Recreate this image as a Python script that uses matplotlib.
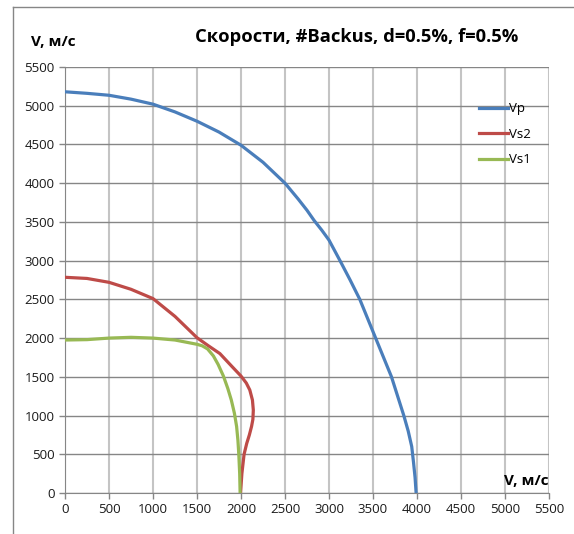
import matplotlib
matplotlib.use('Agg')
import matplotlib.pyplot as plt
from matplotlib.lines import Line2D

plt.rcParams['font.family'] = ['Open Sans', 'DejaVu Sans']

# Data (V, m/s)
vp_x = [0, 250, 500, 750, 1000, 1250, 1500, 1750, 2000, 2250, 2500, 2650, 2750, 2830,
        2920, 3000, 3125, 3240, 3350, 3440, 3530, 3620, 3710, 3780, 3850, 3900, 3940,
        3960, 3978, 3990]
vp_y = [5180, 5160, 5135, 5085, 5020, 4920, 4800, 4660, 4490, 4270, 4000, 3795, 3650, 3520,
        3390, 3265, 3000, 2750, 2500, 2250, 2000, 1750, 1500, 1250, 1000, 800, 600,
        400, 200, 0]

vs2_x = [0, 250, 500, 750, 1000, 1250, 1500, 1630, 1760, 1900, 2000, 2060, 2100, 2130,
         2140, 2135, 2120, 2095, 2065, 2035, 2010, 1995]
vs2_y = [2785, 2770, 2720, 2630, 2510, 2280, 2005, 1900, 1800, 1630, 1510, 1420, 1330, 1200,
         1070, 950, 860, 750, 640, 500, 250, 0]

vs1_x = [0, 250, 500, 750, 1000, 1250, 1500, 1560, 1620, 1686, 1740, 1800, 1850, 1890,
         1925, 1950, 1965, 1975, 1985, 1990]
vs1_y = [1975, 1980, 2000, 2010, 2000, 1975, 1920, 1900, 1860, 1770, 1660, 1510, 1350, 1200,
         1030, 860, 680, 500, 250, 0]

ticks = list(range(0, 5501, 500))

fig = plt.figure(figsize=(5.74, 5.34), dpi=100)
ax = fig.add_axes([65/574, 41/534, 484/574, 426/534])

lw = 2.3
ax.plot(vp_x, vp_y, color='#4a7ebb', lw=lw, label='Vp', zorder=3)
ax.plot(vs2_x, vs2_y, color='#be4b48', lw=lw, label='Vs2', zorder=3)
ax.plot(vs1_x, vs1_y, color='#98b954', lw=lw, label='Vs1', zorder=3)

ax.set_xlim(0, 5500)
ax.set_ylim(0, 5500)
ax.set_xticks(ticks)
ax.set_yticks(ticks)
ax.tick_params(labelsize=9.5, colors='#868686', labelcolor='#1a1a1a', length=4, width=1)

# Excel-like grid: darker horizontal, lighter vertical lines
ax.yaxis.grid(True, color='#868686', lw=1)
ax.xaxis.grid(True, color='#c4c4c4', lw=1.5)
ax.set_axisbelow(True)
for s in ['top', 'right']:
    ax.spines[s].set_visible(False)
for s in ['left', 'bottom']:
    ax.spines[s].set_color('#868686')

leg = ax.legend(loc='upper left', bbox_to_anchor=(0.83, 0.945), frameon=False,
                fontsize=9.5, handlelength=2.2, handletextpad=0.1, labelspacing=0.95)

fig.text(357/574, 1 - 37/534, 'Скорости, #Backus, d=0.5%, f=0.5%', ha='center',
         va='center', fontsize=13.2, fontweight='bold')
fig.text(53/574, 1 - 42/534, 'V, м/с', ha='center', va='center', fontsize=11,
         fontweight='bold')
fig.text(548/574, 1 - 481/534, 'V, м/с', ha='right', va='center', fontsize=11,
         fontweight='bold')

# outer chart frame (left and top edges visible)
fig.add_artist(Line2D([13/574, 13/574], [0, 1 - 7/534], color='#868686', lw=1))
fig.add_artist(Line2D([13/574, 1], [1 - 7/534, 1 - 7/534], color='#868686', lw=1))

fig.savefig('out.png', dpi=100)
